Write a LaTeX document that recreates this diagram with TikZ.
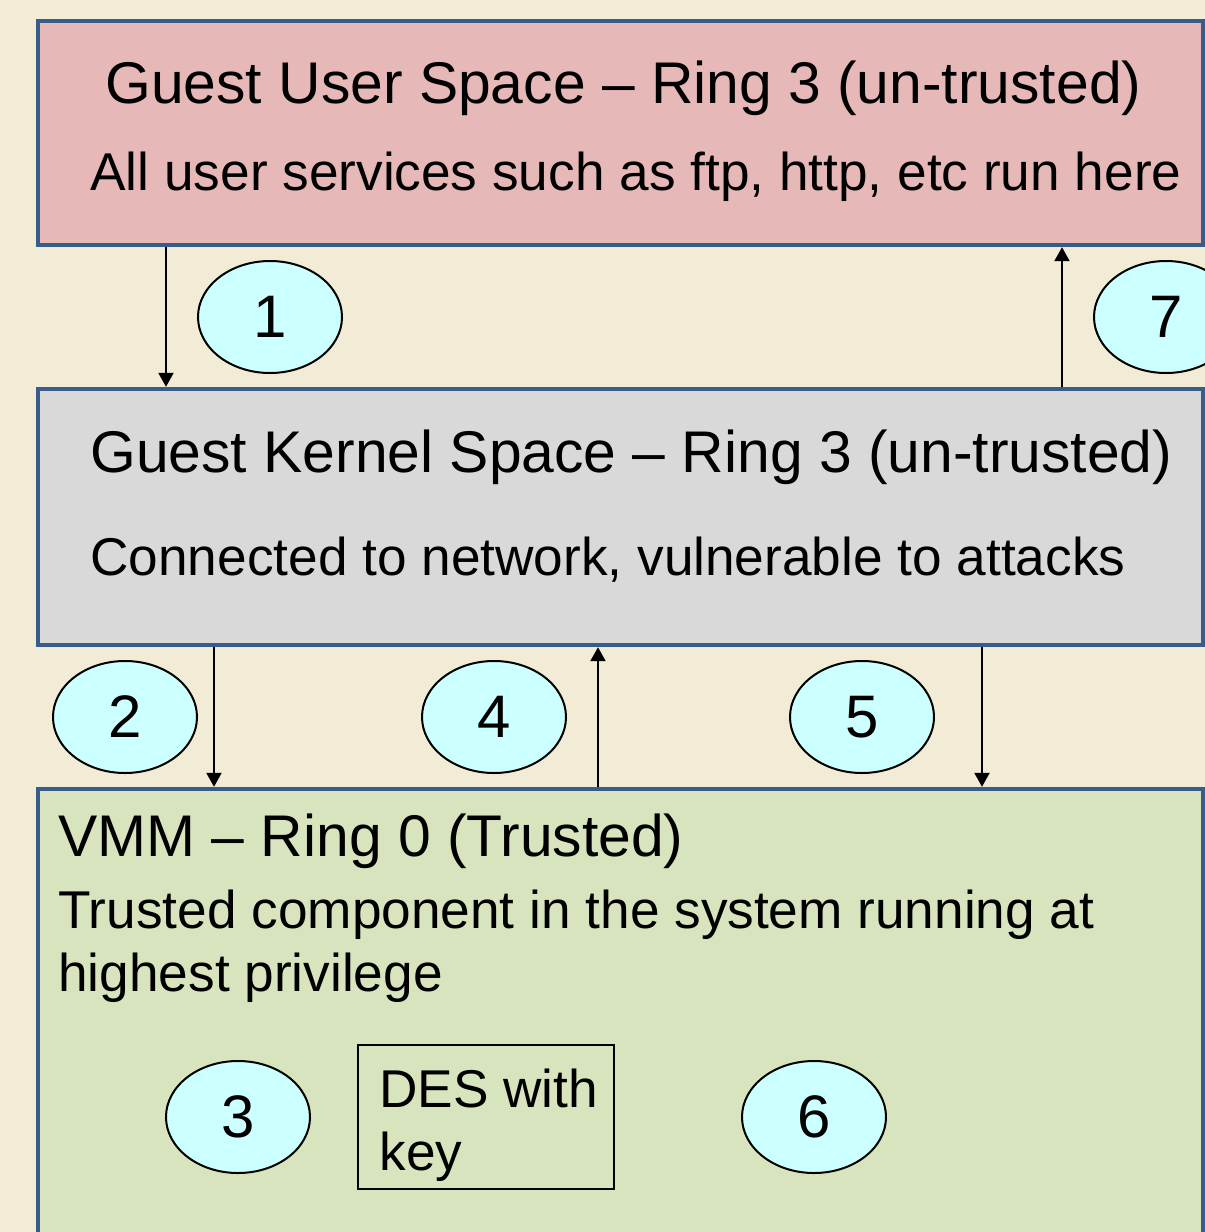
\documentclass[tikz,border=0pt]{standalone}
\usepackage{fontspec}
\setmainfont{Liberation Sans}
\usetikzlibrary{arrows.meta}
\definecolor{bg}{RGB}{242,235,214}
\definecolor{userfill}{RGB}{230,184,183}
\definecolor{kernfill}{RGB}{217,217,217}
\definecolor{vmmfill}{RGB}{215,228,189}
\definecolor{edgeblue}{RGB}{56,93,138}
\definecolor{bubble}{RGB}{204,255,255}
\tikzset{
  layer/.style={draw=edgeblue, line width=2.2pt, rectangle, inner sep=0pt},
  num/.style={ellipse, draw=black, line width=1pt, fill=bubble, minimum width=72pt, minimum height=56pt, inner sep=0pt, font=\fontsize{30}{36}\selectfont},
  big/.style={anchor=base west, inner sep=0pt, font=\fontsize{29.4}{34}\selectfont},
  small/.style={anchor=base west, inner sep=0pt, font=\fontsize{26.6}{32}\selectfont},
  arr/.style={line width=1pt, -{Triangle[length=7pt,width=7.5pt]}},
  desbox/.style={draw=black, line width=1pt, rectangle, inner sep=0pt}
}
\usetikzlibrary{shapes.geometric}
\begin{document}
\begin{tikzpicture}[x=0.5pt,y=-0.5pt]
\useasboundingbox (0,0) rectangle (1205,1232);
\clip (0,0) rectangle (1205,1232);
\fill[bg] (0,0) rectangle (1205,1232);
% layers
\node[layer, fill=userfill, minimum width=582.5pt, minimum height=112pt] (top) at (620.5,133) {};
\node[layer, fill=kernfill, minimum width=582.5pt, minimum height=128pt] (mid) at (620.5,517) {};
\node[layer, fill=vmmfill, minimum width=582.5pt, minimum height=300pt] (vmm) at (620.5,1089) {};
% texts
\node[big] (t1) at (105,103) {Guest User Space – Ring 3 (un-trusted)};
\node[small] (t2) at (90,190) {All user services such as ftp, http, etc run here};
\node[big] (t3) at (90,472) {Guest Kernel Space – Ring 3 (un-trusted)};
\node[small] (t4) at (90,575) {Connected to network, vulnerable to attacks};
\node[big] (t5) at (58,856) {VMM – Ring 0 (Trusted)};
\node[small] (t6) at (58,928) {Trusted component in the system running at};
\node[small] (t7) at (58,991) {highest privilege};
% DES box
\node[desbox, minimum width=128pt, minimum height=72pt] (des) at (486,1117) {};
\node[small] (d1) at (379,1107) {DES with};
\node[small] (d2) at (379,1170) {key};
% bubbles
\node[num] (n1) at (270,317) {1};
\node[num] (n7) at (1166,317) {7};
\node[num] (n2) at (125,717) {2};
\node[num] (n4) at (494,717) {4};
\node[num] (n5) at (862,717) {5};
\node[num] (n3) at (238,1117) {3};
\node[num] (n6) at (814,1117) {6};
% arrows
\coordinate (x1) at (166,0);
\coordinate (x7) at (1062,0);
\coordinate (x2) at (214,0);
\coordinate (x4) at (598,0);
\coordinate (x5) at (982,0);
\draw[arr] (top.south -| x1) -- (mid.north -| x1);
\draw[arr] (mid.north -| x7) -- (top.south -| x7);
\draw[arr] (mid.south -| x2) -- (vmm.north -| x2);
\draw[arr] (vmm.north -| x4) -- (mid.south -| x4);
\draw[arr] (mid.south -| x5) -- (vmm.north -| x5);
\end{tikzpicture}
\end{document}
